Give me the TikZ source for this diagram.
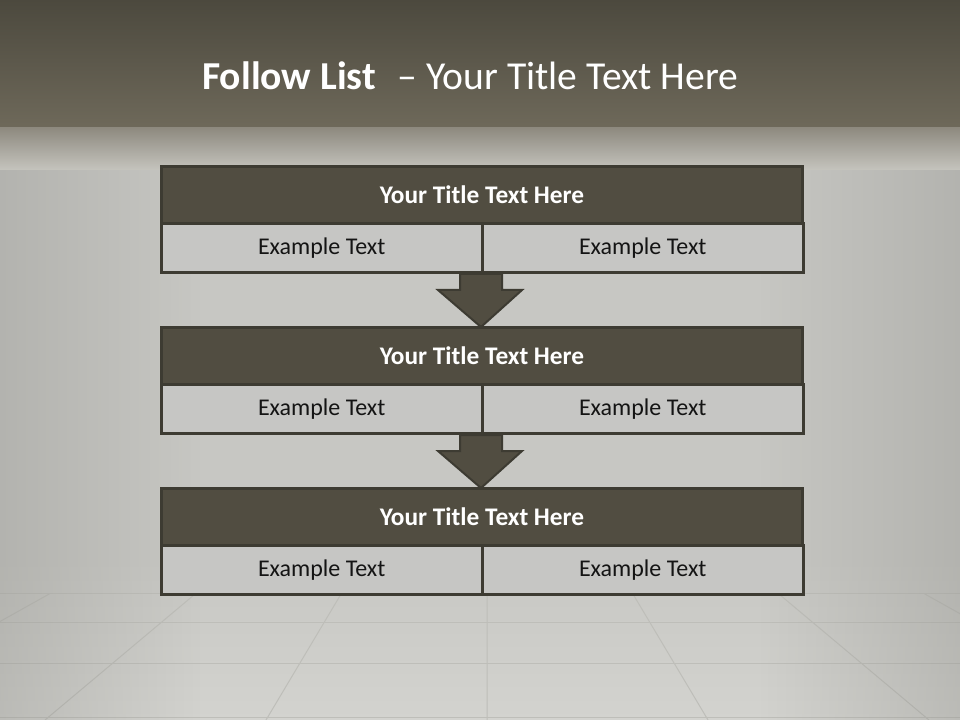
\documentclass[tikz,border=0pt]{standalone}
\usepackage{fontspec}
\setmainfont{Carlito}
\usetikzlibrary{calc,fadings}
\definecolor{bandfill}{HTML}{514D41}
\definecolor{edgecol}{HTML}{3D3B32}
\definecolor{cellfill}{HTML}{C6C6C4}
\definecolor{wallcol}{HTML}{C7C7C3}
\definecolor{floorcol}{HTML}{D3D3CF}
\definecolor{topA}{HTML}{4C493E}
\definecolor{topB}{HTML}{6E695A}
\definecolor{transA}{HTML}{8E8A7F}
\definecolor{transB}{HTML}{C5C4BE}
\definecolor{sidecol}{HTML}{8F8F8A}
\definecolor{tilecol}{HTML}{BEBEB9}
\definecolor{textdark}{HTML}{141414}
\tikzset{
  titlebox/.style={draw=edgecol, line width=2.25pt, fill=bandfill, text=white,
    font=\fontsize{19}{21}\selectfont\bfseries, minimum width=480.75pt,
    minimum height=42.75pt, inner sep=0pt, anchor=north west},
  cellbox/.style={draw=edgecol, line width=2.25pt, fill=cellfill, text=textdark,
    font=\fontsize{18}{20}\selectfont, minimum width=240.375pt,
    minimum height=36.75pt, inner sep=0pt, anchor=north west},
  downarrow/.style={draw=edgecol, line width=1.5pt, fill=bandfill, line join=miter},
  shadowbox/.style={fill=edgecol},
  tileline/.style={draw=tilecol, line width=0.75pt},
  headline/.style={text=white, font=\fontsize{29.7}{32}\selectfont, inner sep=0pt}
}
\begin{document}
\begin{tikzpicture}[x=0.75pt,y=-0.75pt]
\useasboundingbox (0,0) rectangle (960,720);
% background
\fill[wallcol] (0,0) rectangle (960,720);
\shade[top color=wallcol, bottom color=floorcol] (0,560) rectangle (960,720);
% floor tiles
\coordinate (vp) at (487,349);
\foreach \k in {-3,-2,-1,0,1,2,3}{
  \draw[tileline] ($(vp)!0.66!(487+221*\k,720)$) -- (487+221*\k,720);
}
\foreach \yy in {593,622,663,717}{
  \draw[tileline] (0,\yy) -- (960,\yy);
}
% side vignettes
\fill[sidecol, fill opacity=0.35, path fading=east] (0,128) rectangle (200,720);
\fill[sidecol, fill opacity=0.35, path fading=west] (760,128) rectangle (960,720);
% top band
\shade[top color=topA, bottom color=topB] (0,0) rectangle (960,128);
\shade[top color=transA, bottom color=transB] (0,128) rectangle (960,170);
\node[headline, anchor=west] (head) at (202,76) {\textbf{Follow List}\hspace{0.55em}– Your Title Text Here};
% shadows
\foreach \yy/\hh in {165/106,326/106,487/106}{
  \fill[shadowbox] (161,\yy+2) rectangle (802,\yy+\hh+3);
}
% boxes
\node[titlebox] (t1) at (160,165) {Your Title Text Here};
\node[cellbox] (l1) at (160,222) {Example Text};
\node[cellbox] (r1) at (481,222) {Example Text};
\node[titlebox] (t2) at (160,326) {Your Title Text Here};
\node[cellbox] (l2) at (160,383) {Example Text};
\node[cellbox] (r2) at (481,383) {Example Text};
\node[titlebox] (t3) at (160,487) {Your Title Text Here};
\node[cellbox] (l3) at (160,544) {Example Text};
\node[cellbox] (r3) at (481,544) {Example Text};
% arrows
\draw[downarrow] ($(r1.south west)+(-21,0)$) -- ($(r1.south west)+(21,0)$)
  -- ($(r1.south west)+(21,16)$) -- ($(r1.south west)+(41,16)$) -- ($(t2.north west)+(321,1)$)
  -- ($(r1.south west)+(-43,16)$) -- ($(r1.south west)+(-21,16)$) -- cycle;
\draw[downarrow] ($(r2.south west)+(-21,0)$) -- ($(r2.south west)+(21,0)$)
  -- ($(r2.south west)+(21,16)$) -- ($(r2.south west)+(41,16)$) -- ($(t3.north west)+(321,1)$)
  -- ($(r2.south west)+(-43,16)$) -- ($(r2.south west)+(-21,16)$) -- cycle;
\end{tikzpicture}
\end{document}
